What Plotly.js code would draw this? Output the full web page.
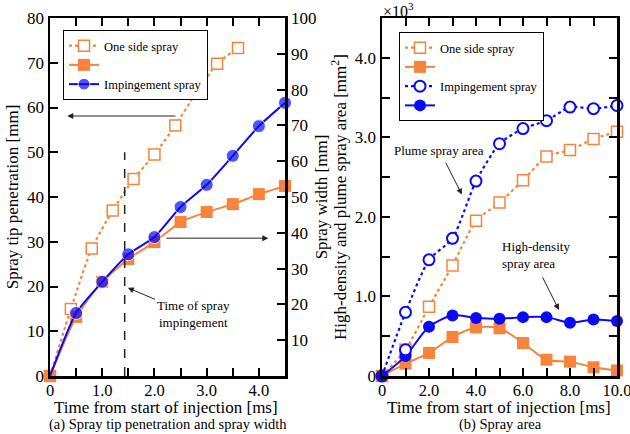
<!DOCTYPE html>
<html><head><meta charset="utf-8">
<script src="https://cdn.plot.ly/plotly-3.0.1.min.js"></script>
<style>html,body{margin:0;padding:0;background:#fff}</style>
</head><body>
<div id="chart" style="width:630px;height:434px"></div>
<script>
// ---- Data: (a) spray tip penetration and spray width ----
var tPenetration = [0, 0.4, 0.8, 1.2, 1.6, 2.0, 2.4, 2.8, 3.2, 3.6];
var penetrationOneSide = [0, 15, 28.5, 37, 44, 49.5, 56, 63.3, 69.8, 73.3];
var tWidth = [0, 0.5, 1.0, 1.5, 2.0, 2.5, 3.0, 3.5, 4.0, 4.5];
var widthOneSide = [0, 16.5, 26.3, 32.7, 37.4, 43.0, 45.8, 48.0, 50.8, 53.1];
var widthImpingement = [0, 17.6, 26.3, 34.0, 38.8, 47.2, 53.4, 61.5, 69.8, 76.3];
var impingementTime = 1.43;

// ---- Data: (b) spray area (x10^3 mm^2) ----
var tArea = [0, 1, 2, 3, 4, 5, 6, 7, 8, 9, 10];
var plumeOneSide = [0, 0.33, 0.87, 1.39, 1.95, 2.18, 2.46, 2.76, 2.84, 2.98, 3.07];
var highDensityOneSide = [0, 0.155, 0.29, 0.49, 0.61, 0.60, 0.415, 0.205, 0.18, 0.11, 0.07];
var plumeImpingement = [0, 0.80, 1.46, 1.73, 2.45, 2.92, 3.11, 3.21, 3.38, 3.36, 3.40];
var highDensityImpingement = [0, 0.25, 0.62, 0.76, 0.73, 0.72, 0.74, 0.74, 0.67, 0.71, 0.69];
var tPlumeImpExtra = [1];
var plumeImpExtra = [0.33];

var xTicksA = [0, 0.5, 1, 1.5, 2, 2.5, 3, 3.5, 4, 4.5];
var xTickTextA = ['0', '', '1.0', '', '2.0', '', '3.0', '', '4.0', ''];
var yTicksA = [0, 10, 20, 30, 40, 50, 60, 70, 80];
var y2TicksA = [10, 20, 30, 40, 50, 60, 70, 80, 90, 100];
var xTicksB = [0, 1, 2, 3, 4, 5, 6, 7, 8, 9, 10];
var xTickTextB = ['0', '', '2.0', '', '4.0', '', '6.0', '', '8.0', '', '10.0'];
var yTicksB = [0, 0.5, 1, 1.5, 2, 2.5, 3, 3.5, 4, 4.5];
var yTickTextB = ['0', '', '1.0', '', '2.0', '', '3.0', '', '4.0', ''];

var ORANGE = '#f7843a';
var BLUE = '#0a0af5';
var FONT = 'Liberation Serif';

var traces = [
  {x: tPenetration, y: penetrationOneSide, xaxis: 'x', yaxis: 'y', mode: 'lines+markers',
   name: 'One side spray', legend: 'legend', cliponaxis: false,
   line: {color: ORANGE, width: 2.2, dash: 'dot', shape: 'spline', smoothing: 0.6},
   marker: {symbol: 'square', size: 11, color: 'white', line: {color: ORANGE, width: 1.5}}},
  {x: tWidth, y: widthOneSide, xaxis: 'x', yaxis: 'y2', mode: 'lines+markers',
   name: '', legend: 'legend', cliponaxis: false,
   line: {color: ORANGE, width: 2, shape: 'spline', smoothing: 0.6},
   marker: {symbol: 'square', size: 12, color: ORANGE}},
  {x: tWidth, y: widthImpingement, xaxis: 'x', yaxis: 'y2', mode: 'lines+markers',
   name: 'Impingement spray', legend: 'legend', cliponaxis: false,
   line: {color: BLUE, width: 2, shape: 'spline', smoothing: 0.6},
   marker: {symbol: 'circle', size: widthImpingement.map(function(v, i){ return i === 0 ? 0 : 13; }), color: BLUE}},

  {x: tArea, y: plumeOneSide, xaxis: 'x2', yaxis: 'y3', mode: 'lines+markers',
   name: 'One side spray', legend: 'legend2', cliponaxis: false,
   line: {color: ORANGE, width: 2.2, dash: 'dot', shape: 'spline', smoothing: 0.6},
   marker: {symbol: 'square', size: 11, color: 'white', line: {color: ORANGE, width: 1.5}}},
  {x: tArea, y: highDensityOneSide, xaxis: 'x2', yaxis: 'y3', mode: 'lines+markers',
   name: '', legend: 'legend2', cliponaxis: false,
   line: {color: ORANGE, width: 2, shape: 'spline', smoothing: 0.8},
   marker: {symbol: 'square', size: 12, color: ORANGE}},
  {x: tArea, y: plumeImpingement, xaxis: 'x2', yaxis: 'y3', mode: 'lines+markers',
   name: 'Impingement spray', legend: 'legend2', cliponaxis: false,
   line: {color: BLUE, width: 2.2, dash: 'dot', shape: 'spline', smoothing: 0.6},
   marker: {symbol: 'circle', size: 11, color: 'white', line: {color: BLUE, width: 2}}},
  {x: tArea, y: highDensityImpingement, xaxis: 'x2', yaxis: 'y3', mode: 'lines+markers',
   name: '', legend: 'legend2', cliponaxis: false,
   line: {color: BLUE, width: 2, shape: 'spline', smoothing: 0.8},
   marker: {symbol: 'circle', size: 12, color: BLUE}},
  {x: tPlumeImpExtra, y: plumeImpExtra, xaxis: 'x2', yaxis: 'y3', mode: 'markers',
   showlegend: false, cliponaxis: false,
   marker: {symbol: 'circle', size: 11, color: 'white', line: {color: BLUE, width: 2}}}
];

function axisBase(extra) {
  var a = {showline: true, linewidth: 2.5, linecolor: 'black', ticks: 'inside', ticklen: 8,
    tickwidth: 2, tickcolor: 'black', showgrid: false, zeroline: false, ticklabeloverflow: 'allow',
    tickfont: {family: FONT, size: 17, color: 'black'}, fixedrange: true};
  for (var k in extra) a[k] = extra[k];
  return a;
}
var titleFont = {family: FONT, size: 17, color: 'black'};
var yDom = [58/434, 416/434];

var layout = {
  width: 630, height: 434,
  margin: {l: 0, r: 0, t: 0, b: 0},
  paper_bgcolor: 'white', plot_bgcolor: 'white',
  font: {family: FONT, color: 'black'},
  xaxis: axisBase({domain: [50/630, 285/630], range: [0, 4.5], anchor: 'y',
    tickmode: 'array', tickvals: xTicksA, ticktext: xTickTextA, mirror: 'ticks',
    tickfont: {family: FONT, size: 16.5, color: 'black'}, ticklabelstandoff: -2}),
  yaxis: axisBase({domain: yDom, range: [0, 80], anchor: 'x',
    tickmode: 'array', tickvals: yTicksA, ticktext: yTicksA.map(String),
    title: {text: 'Spray tip penetration [mm]', font: titleFont, standoff: 4}}),
  yaxis2: axisBase({overlaying: 'y', side: 'right', range: [0, 100], anchor: 'x',
    tickmode: 'array', tickvals: y2TicksA, ticktext: y2TicksA.map(String),
    title: {text: 'Spray width [mm]', font: titleFont, standoff: 0}}),
  xaxis2: axisBase({domain: [382/630, 617/630], range: [0, 10], anchor: 'y3',
    tickmode: 'array', tickvals: xTicksB, ticktext: xTickTextB, mirror: 'ticks',
    tickfont: {family: FONT, size: 16.5, color: 'black'}, ticklabelstandoff: -2}),
  yaxis3: axisBase({domain: yDom, range: [0, 4.5], anchor: 'x2',
    tickmode: 'array', tickvals: yTicksB, ticktext: yTickTextB, mirror: 'ticks',
    title: {text: 'High-density and plume spray area [mm<sup>2</sup>]', font: titleFont, standoff: 4}}),
  legend: {x: 63/630, y: 1 - 30/434, xanchor: 'left', yanchor: 'top', bgcolor: 'white',
    bordercolor: 'black', borderwidth: 1, font: {family: FONT, size: 12.5, color: 'black'},
    tracegroupgap: 0, itemwidth: 30},
  legend2: {x: 399/630, y: 1 - 32/434, xanchor: 'left', yanchor: 'top', bgcolor: 'white',
    bordercolor: 'black', borderwidth: 1, font: {family: FONT, size: 12.5, color: 'black'},
    tracegroupgap: 0, itemwidth: 30},
  shapes: [
    {type: 'line', xref: 'x', yref: 'y', x0: impingementTime, x1: impingementTime, y0: 0, y1: 50,
     line: {color: '#222', width: 1.5, dash: 'dash'}}
  ],
  annotations: [
    {xref: 'x', yref: 'y', x: 0.33, y: 58.1, ax: 2.43, ay: 58.1, axref: 'x', ayref: 'y',
     showarrow: true, arrowhead: 2, arrowsize: 1.2, arrowwidth: 1, arrowcolor: '#222', text: ''},
    {xref: 'x', yref: 'y', x: 4.18, y: 30.8, ax: 2.2, ay: 30.8, axref: 'x', ayref: 'y',
     showarrow: true, arrowhead: 2, arrowsize: 1.2, arrowwidth: 1, arrowcolor: '#222', text: ''},
    {xref: 'x', yref: 'y', x: 1.49, y: 19.7, ax: 2.04, ay: 17.0, axref: 'x', ayref: 'y',
     showarrow: true, arrowhead: 2, arrowsize: 1.2, arrowwidth: 1, arrowcolor: '#222', text: ''},
    {xref: 'x', yref: 'y', x: 2.74, y: 13.9, showarrow: false,
     text: 'Time of spray<br>impingement', font: {family: FONT, size: 13, color: 'black'}},
    {xref: 'x2', yref: 'y3', x: 3.4, y: 2.28, ax: 2.68, ay: 2.7, axref: 'x2', ayref: 'y3',
     showarrow: true, arrowhead: 2, arrowsize: 1.2, arrowwidth: 1, arrowcolor: '#222', text: ''},
    {xref: 'x2', yref: 'y3', x: 2.43, y: 2.84, showarrow: false,
     text: 'Plume spray area', font: {family: FONT, size: 13, color: 'black'}},
    {xref: 'x2', yref: 'y3', x: 7.53, y: 0.83, ax: 6.8, ay: 1.26, axref: 'x2', ayref: 'y3',
     showarrow: true, arrowhead: 2, arrowsize: 1.2, arrowwidth: 1, arrowcolor: '#222', text: ''},
    {xref: 'x2', yref: 'y3', x: 5.02, y: 1.52, showarrow: false, xanchor: 'left', align: 'left',
     text: 'High-density<br>spray area', font: {family: FONT, size: 13, color: 'black'}},
    {xref: 'paper', yref: 'paper', x: 381/630, y: 1 - 10/434, xanchor: 'left', yanchor: 'middle',
     showarrow: false, text: '×10<sup>3</sup>', font: {family: FONT, size: 16, color: 'black'}},
    {xref: 'paper', yref: 'paper', x: 166/630, y: 1 - 407/434, xanchor: 'center', yanchor: 'middle',
     showarrow: false, text: 'Time from start of injection [ms]', font: titleFont},
    {xref: 'paper', yref: 'paper', x: 499/630, y: 1 - 407/434, xanchor: 'center', yanchor: 'middle',
     showarrow: false, text: 'Time from start of injection [ms]', font: titleFont},
    {xref: 'paper', yref: 'paper', x: 168/630, y: 1 - 424.5/434, xanchor: 'center', yanchor: 'middle',
     showarrow: false, text: '(a) Spray tip penetration and spray width', font: {family: FONT, size: 14.5, color: 'black'}},
    {xref: 'paper', yref: 'paper', x: 500/630, y: 1 - 424.5/434, xanchor: 'center', yanchor: 'middle',
     showarrow: false, text: '(b) Spray area', font: {family: FONT, size: 14.5, color: 'black'}}
  ]
};

Plotly.newPlot('chart', traces, layout, {staticPlot: true, displayModeBar: false});
</script>
</body></html>
